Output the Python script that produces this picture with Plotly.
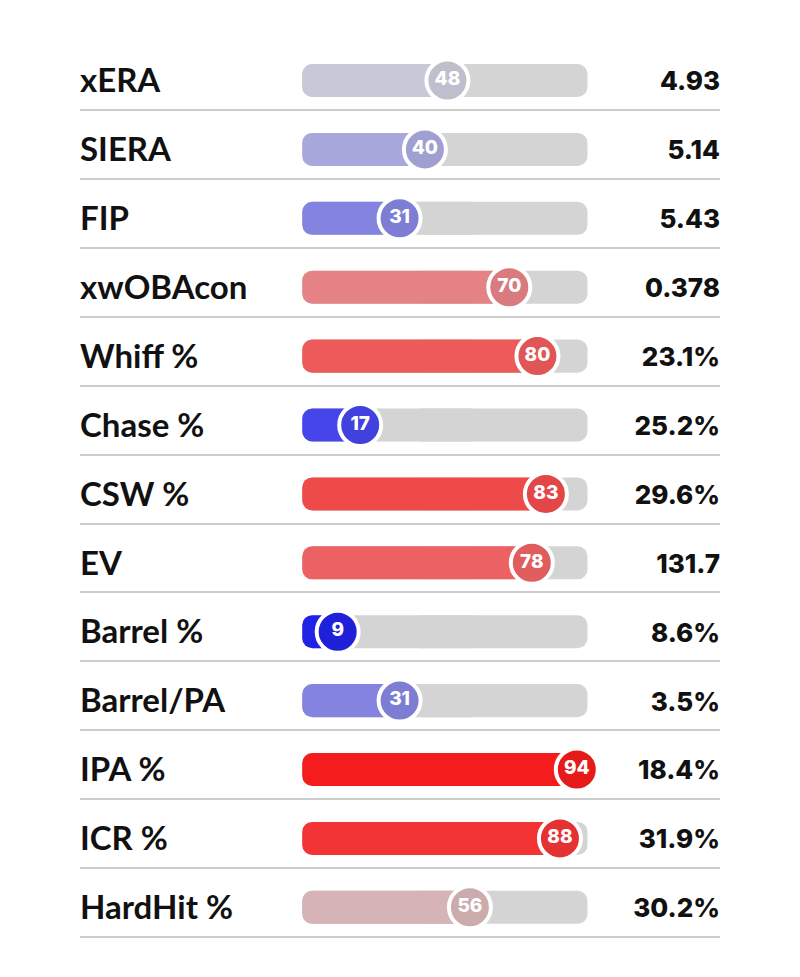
import plotly.graph_objects as go

# ---- data ----
METRICS = ["xERA", "SIERA", "FIP", "xwOBAcon", "Whiff %", "Chase %", "CSW %",
           "EV", "Barrel %", "Barrel/PA", "IPA %", "ICR %", "HardHit %"]
PERCENTILES = [48, 40, 31, 70, 80, 17, 83, 78, 9, 31, 94, 88, 56]
VALUES = ["4.93", "5.14", "5.43", "0.378", "23.1%", "25.2%", "29.6%",
          "131.7", "8.6%", "3.5%", "18.4%", "31.9%", "30.2%"]

# ---- style ----
COLORS = ["#c8c8d8", "#a8a8dc", "#8484e0", "#e58285", "#ec5a5a", "#4545ea",
          "#ee4a4a", "#ec6262", "#2222e4", "#8484e0", "#f41c1c", "#f23434",
          "#d6b4b6"]
TRACK = "#d4d4d4"
TRACK_LO, TRACK_HI = -3.6, 97.8
X_RANGE = [-82.6, 144.9]
BAR_W = 0.48
TEXT_DY = 0.05


def darker(hexc, f=0.95):
    h = hexc.lstrip("#")
    r, g, b = (int(h[i:i + 2], 16) for i in (0, 2, 4))
    return "rgb(%d,%d,%d)" % (r * f, g * f, b * f)


n = len(METRICS)
rows = list(range(n))

fig = go.Figure()

# track: two overlapping halves so both outer ends are rounded
fig.add_trace(go.Bar(orientation="h", y=rows, base=[35] * n,
                     x=[TRACK_HI - 35] * n, width=BAR_W,
                     marker=dict(color=TRACK, line=dict(width=0)),
                     hoverinfo="skip"))
fig.add_trace(go.Bar(orientation="h", y=rows, base=[60] * n,
                     x=[TRACK_LO - 60] * n, width=BAR_W,
                     marker=dict(color=TRACK, line=dict(width=0)),
                     hoverinfo="skip"))
# fill: from percentile back to the left edge (rounded left end)
fig.add_trace(go.Bar(orientation="h", y=rows, base=PERCENTILES,
                     x=[TRACK_LO - p for p in PERCENTILES], width=BAR_W,
                     marker=dict(color=COLORS, line=dict(width=0)),
                     hoverinfo="skip"))

# circles
fig.add_trace(go.Scatter(
    x=PERCENTILES, y=rows, mode="markers+text",
    marker=dict(size=42, color=[darker(c) for c in COLORS],
                line=dict(color="white", width=4)),
    text=[str(p) for p in PERCENTILES], textposition="middle center",
    textfont=dict(family="Inter", size=19, color="white", weight=800),
    cliponaxis=False, hoverinfo="skip"))

# metric labels
fig.add_trace(go.Scatter(
    x=[X_RANGE[0]] * n, y=[r + TEXT_DY for r in rows], mode="text",
    text=METRICS, textposition="middle right",
    textfont=dict(family="Lato", size=33, color="#111111", weight=700),
    cliponaxis=False, hoverinfo="skip"))

# values
fig.add_trace(go.Scatter(
    x=[X_RANGE[1]] * n, y=[r + TEXT_DY for r in rows], mode="text",
    text=VALUES, textposition="middle left",
    textfont=dict(family="Inter", size=26, color="#111111", weight=800),
    cliponaxis=False, hoverinfo="skip"))

fig.update_layout(
    width=800, height=977,
    margin=dict(l=80, r=80, t=40, b=30),
    paper_bgcolor="white", plot_bgcolor="white",
    barmode="overlay", barcornerradius=10, showlegend=False,
    xaxis=dict(range=X_RANGE, visible=False, fixedrange=True),
    yaxis=dict(range=[12.576, -0.588], tickvals=[r + 0.43 for r in rows],
               showticklabels=False, showgrid=True, gridcolor="#cccccc",
               gridwidth=2, zeroline=False, ticks="", fixedrange=True),
)

fig.write_html("out.html", config={"displayModeBar": False},
               post_script="document.body.style.margin='0';")
